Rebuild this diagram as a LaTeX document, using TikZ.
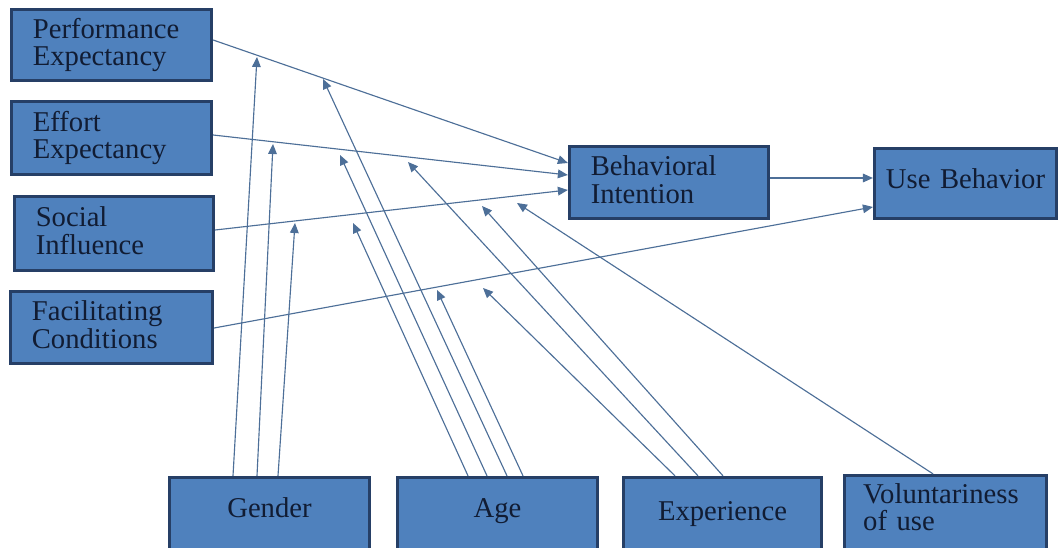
\documentclass[tikz,border=0pt]{standalone}
\usepackage{fontspec}
\setmainfont{Liberation Serif}
\usetikzlibrary{arrows.meta,calc}

\definecolor{boxfill}{HTML}{4F81BD}
\definecolor{boxline}{HTML}{263F66}
\definecolor{boxtext}{HTML}{111C33}
\definecolor{linkcol}{HTML}{4D6F98}
\newcommand{\boxfont}{\fontsize{21.5pt}{20.5pt}\selectfont}

\tikzset{
  construct/.style={draw=boxline, fill=boxfill, line width=2.4pt, text=boxtext, font=\boxfont,
    align=left, inner xsep=16pt, inner ysep=0pt, text height=15pt, text depth=25pt},
  single/.style={align=center, text height=15pt, text depth=15pt},
  link/.style={draw=linkcol, line width=0.85pt, -{Triangle[length=7.5pt,width=6.5pt]}},
}

\begin{document}
\begin{tikzpicture}[x=0.75pt,y=-0.75pt]
      \useasboundingbox (0,0) rectangle (1063,548);
      \fill[white] (0,0) rectangle (1063,548);
      \clip (0,0) rectangle (1063,548);

      % Constructs
      \node[construct, text width=118pt, minimum height=53.3pt] (pe) at (111.5,45) {Performance\\Expectancy};
      \node[construct, text width=118pt, minimum height=54.8pt] (ee) at (111.5,138) {Effort\\Expectancy};
      \node[construct, text width=117.3pt, minimum height=55.5pt] (si) at (114,233.5) {Social\\Influence};
      \node[construct, text width=119.5pt, minimum height=54pt] (fc) at (111.5,327.5) {Facilitating\\Conditions};
      \node[construct, text width=117.3pt, minimum height=54pt] (bi) at (669,182.5) {Behavioral\\Intention};
      \node[construct, single, inner xsep=6pt, text width=124.5pt, text depth=8pt, minimum height=52.5pt] (ub) at (965.5,183.5) {Use Behavior};

      % Moderators (cut by the lower edge)
      \node[construct, single, minimum width=150pt, minimum height=59.3pt] (gen) at (269.5,517) {Gender};
      \node[construct, single, minimum width=150pt, minimum height=59.3pt] (age) at (497.5,517) {Age};
      \node[construct, single, minimum width=148.5pt, minimum height=63.8pt] (exp) at (722.5,520) {Experience};
      \node[construct, inner xsep=14pt, text width=123.5pt, text depth=34.5pt, minimum height=60.8pt] (vol) at (945.5,516) {Voluntariness\\of use};

      % Tips of the moderating arrows
      \coordinate (gpe) at (257,57);
      \coordinate (gee) at (273,144);
      \coordinate (gsi) at (295,223);
      \coordinate (ape) at (323,79);
      \coordinate (aee) at (340,155);
      \coordinate (asi) at (353,223);
      \coordinate (afc) at (437,290);
      \coordinate (eee) at (408,162);
      \coordinate (esi) at (482,206);
      \coordinate (efc) at (483,288);
      \coordinate (vsi) at (517,203);

      %Straight Lines
      \draw[link] ($(pe.east)+(0,-5)$) -- ($(bi.west)+(0,-19.5)$);
      \draw[link] ($(ee.east)+(0,-3)$) -- ($(bi.west)+(0,-7.5)$);
      \draw[link] ($(si.east)+(0,-3.5)$) -- ($(bi.west)+(0,7.5)$);
      \draw[link] ($(fc.east)+(0,0.5)$) -- ($(ub.west)+(0,23.5)$);
      \draw[link] ($(bi.east)+(0,-4.5)$) -- ($(ub.west)+(0,-5.5)$);

      % Gender
      \draw[link] ($(gen.north)+(-36.5,0)$) -- (gpe);
      \draw[link] ($(gen.north)+(-12.5,0)$) -- (gee);
      \draw[link] ($(gen.north)+(8.5,0)$) -- (gsi);
      % Age
      \draw[link] ($(age.north)+(-29.5,0)$) -- (asi);
      \draw[link] ($(age.north)+(-10.5,0)$) -- (aee);
      \draw[link] ($(age.north)+(9.5,0)$) -- (ape);
      \draw[link] ($(age.north)+(25.5,0)$) -- (afc);
      % Experience
      \draw[link] ($(exp.north)+(-47.5,0)$) -- (efc);
      \draw[link] ($(exp.north)+(-24.5,0)$) -- (eee);
      \draw[link] ($(exp.north)+(0.5,0)$) -- (esi);
      % Voluntariness
      \draw[link] ($(vol.north)+(-12.5,0)$) -- (vsi);
\end{tikzpicture}
\end{document}
